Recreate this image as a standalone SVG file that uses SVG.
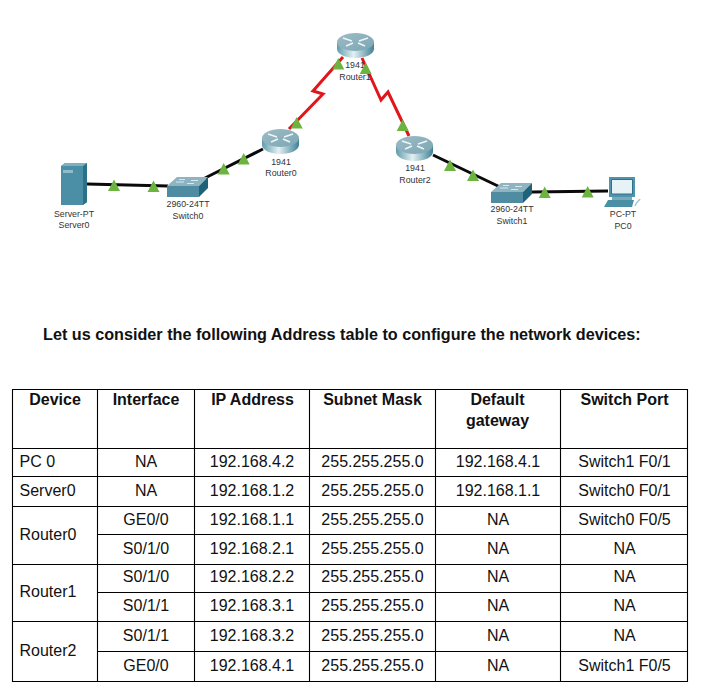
<svg xmlns="http://www.w3.org/2000/svg" xmlns:xlink="http://www.w3.org/1999/xlink" width="702" height="688" viewBox="0 0 702 688">
<style>
text{font-family:"Liberation Sans",Arial,sans-serif}
.lbl{font-size:8.8px;fill:#333;text-anchor:middle}
.t{font-size:16px;fill:#111;text-anchor:middle}
.l{font-size:16px;fill:#111}
.h{font-size:16px;font-weight:700;fill:#111;text-anchor:middle}
.eth{fill:none;stroke:#0a0a0a;stroke-width:3}
.ser{fill:none;stroke:#e0161a;stroke-width:3}
.tri{fill:#6cb33f}
.grid{fill:none;stroke:#000;stroke-width:1.1}
</style>
<defs>
<linearGradient id="rs" x1="0" x2="1" y1="0" y2="0"><stop offset="0" stop-color="#5f9cac"/><stop offset=".45" stop-color="#e4f0f3"/><stop offset="1" stop-color="#3f8195"/></linearGradient>
<linearGradient id="rt" x1="0" x2="1" y1="0" y2="1"><stop offset="0" stop-color="#9dbcc6"/><stop offset="1" stop-color="#7ba6b4"/></linearGradient>
<g id="router">
<path d="M0 9V16C0 21 8.300 25 18.500 25S37 21 37 16V9Z" fill="url(#rs)"/>
<ellipse cx="18.500" cy="9" rx="18.500" ry="9" fill="url(#rt)"/>
<path d="M6 5L15 8M9 13L16 10M31 5L22 8M28 13L21 10" stroke="#eef5f7" stroke-width="1.600" fill="none"/>
</g>
<g id="switch">
<path d="M0 9L10 0H41L32 9Z" fill="#8db4c0"/>
<path d="M0 9H32V20H0Z" fill="#4f8ca1"/>
<path d="M32 9L41 0V11L32 20Z" fill="#1f6378"/>
<path d="M9 5H17M24 3.500H31M12 2.500H18M20 6.500H27" stroke="#d8e8ec" stroke-width="1" fill="none"/>
</g>
</defs>
<rect width="702" height="688" fill="#fff"/>
<g id="connectors">
<path class="eth" d="M87 184L168 186"/>
<path class="eth" d="M205 178L263 149"/>
<path class="ser" d="M289 129L323 94L313 91L343 57"/>
<path class="ser" d="M362 58L381 100L388 92L409 136"/>
<path class="eth" d="M433 155L500 187"/>
<path class="eth" d="M532 192L608 191"/>
</g>
<g id="Server0">
<path d="M61 166L65 163H87V202L83 205H61Z" fill="#4a8fa6"/>
<path d="M83 166L87 163V202L83 205Z" fill="#2b7289"/>
<path d="M61 166L65 163H87L83 166Z" fill="#7fb0bf"/>
<rect x="63" y="170" width="10" height="3" fill="#8fbccb"/>
<text class="lbl" x="74" y="217">Server-PT</text>
<text class="lbl" x="74" y="228">Server0</text>
</g>
<g id="Switch0">
<use href="#switch" x="167" y="177"/>
<text class="lbl" x="188" y="207">2960-24TT</text>
<text class="lbl" x="188" y="219">Switch0</text>
</g>
<g id="Router0">
<use href="#router" x="262" y="129"/>
<text class="lbl" x="281" y="164.500">1941</text>
<text class="lbl" x="281" y="176">Router0</text>
</g>
<g id="Router1">
<use href="#router" x="337" y="33"/>
<text class="lbl" x="355" y="68">1941</text>
<text class="lbl" x="355" y="80">Router1</text>
</g>
<g id="Router2">
<use href="#router" x="396" y="136"/>
<text class="lbl" x="415" y="171">1941</text>
<text class="lbl" x="415" y="183">Router2</text>
</g>
<g id="Switch1">
<use href="#switch" x="491" y="183"/>
<text class="lbl" x="512" y="212">2960-24TT</text>
<text class="lbl" x="512" y="224">Switch1</text>
</g>
<g id="PC0">
<path d="M609 177H635V197H609Z" fill="#4f94ad"/>
<path d="M611.500 179.500H632.500V194H611.500Z" fill="#e6f2f6" stroke="#2e7389" stroke-width="1"/>
<path d="M612 197H632V200H612Z" fill="#7ba9b8"/>
<path d="M608 200H634L632 207H604Z" fill="#4a8fa6"/>
<path d="M635 206C636 202 639 201 640 199" stroke="#a9c3cb" stroke-width="1.500" fill="none"/>
<text class="lbl" x="623" y="217">PC-PT</text>
<text class="lbl" x="623" y="229">PC0</text>
</g>
<g id="link-lights">
<path class="tri" d="M114 179.500L108 191H120Z"/>
<path class="tri" d="M153.500 180.500L147.500 192H159.500Z"/>
<path class="tri" d="M223.700 163L217.700 174.500H229.700Z"/>
<path class="tri" d="M243.700 153L237.700 164.500H249.700Z"/>
<path class="tri" d="M296.700 117L290.700 128.500H302.700Z"/>
<path class="tri" d="M338.300 58L332.300 69.500H344.300Z"/>
<path class="tri" d="M365.700 62.500L359.700 74H371.700Z"/>
<path class="tri" d="M402.700 119.500L396.700 131H408.700Z"/>
<path class="tri" d="M450 159.500L444 171H456Z"/>
<path class="tri" d="M473 169.500L467 181H479Z"/>
<path class="tri" d="M544.700 186.500L538.700 198H550.700Z"/>
<path class="tri" d="M587.700 186L581.700 197.500H593.700Z"/>
</g>
<text x="43" y="340" font-size="16.200" font-weight="700" fill="#111">Let us consider the following Address table to configure the network devices:</text>
<g id="table">
<path class="grid" d="M12.500 389.500H687.500V681.500H12.500ZM97.500 389.500V681.500M194.500 389.500V681.500M309.500 389.500V681.500M435.500 389.500V681.500M560.500 389.500V681.500M12.500 448.500H687.500M12.500 476.500H687.500M12.500 506.500H687.500M97.500 534.500H687.500M12.500 564.500H687.500M97.500 592.500H687.500M12.500 621.500H687.500M97.500 651.500H687.500"/>
<text class="h" x="55" y="405">Device</text><text class="h" x="146" y="405">Interface</text><text class="h" x="252.500" y="405">IP Address</text><text class="h" x="372.500" y="405">Subnet Mask</text><text class="h" x="497.500" y="405">Default</text><text class="h" x="497.500" y="426">gateway</text><text class="h" x="624.500" y="405">Switch Port</text>
<text class="l" x="19.500" y="467">PC 0</text><text class="t" x="146" y="467">NA</text><text class="t" x="252" y="467">192.168.4.2</text><text class="t" x="372.500" y="467">255.255.255.0</text><text class="t" x="498" y="467">192.168.4.1</text><text class="t" x="624.500" y="467">Switch1 F0/1</text>
<text class="l" x="19.500" y="496">Server0</text><text class="t" x="146" y="496">NA</text><text class="t" x="252" y="496">192.168.1.2</text><text class="t" x="372.500" y="496">255.255.255.0</text><text class="t" x="498" y="496">192.168.1.1</text><text class="t" x="624.500" y="496">Switch0 F0/1</text>
<text class="l" x="19.500" y="540">Router0</text>
<text class="t" x="146" y="525">GE0/0</text><text class="t" x="252" y="525">192.168.1.1</text><text class="t" x="372.500" y="525">255.255.255.0</text><text class="t" x="498" y="525">NA</text><text class="t" x="624.500" y="525">Switch0 F0/5</text>
<text class="t" x="146" y="554">S0/1/0</text><text class="t" x="252" y="554">192.168.2.1</text><text class="t" x="372.500" y="554">255.255.255.0</text><text class="t" x="498" y="554">NA</text><text class="t" x="624.500" y="554">NA</text>
<text class="l" x="19.500" y="597">Router1</text>
<text class="t" x="146" y="582">S0/1/0</text><text class="t" x="252" y="582">192.168.2.2</text><text class="t" x="372.500" y="582">255.255.255.0</text><text class="t" x="498" y="582">NA</text><text class="t" x="624.500" y="582">NA</text>
<text class="t" x="146" y="611">S0/1/1</text><text class="t" x="252" y="611">192.168.3.1</text><text class="t" x="372.500" y="611">255.255.255.0</text><text class="t" x="498" y="611">NA</text><text class="t" x="624.500" y="611">NA</text>
<text class="l" x="19.500" y="656">Router2</text>
<text class="t" x="146" y="641">S0/1/1</text><text class="t" x="252" y="641">192.168.3.2</text><text class="t" x="372.500" y="641">255.255.255.0</text><text class="t" x="498" y="641">NA</text><text class="t" x="624.500" y="641">NA</text>
<text class="t" x="146" y="671">GE0/0</text><text class="t" x="252" y="671">192.168.4.1</text><text class="t" x="372.500" y="671">255.255.255.0</text><text class="t" x="498" y="671">NA</text><text class="t" x="624.500" y="671">Switch1 F0/5</text>
</g>
</svg>
